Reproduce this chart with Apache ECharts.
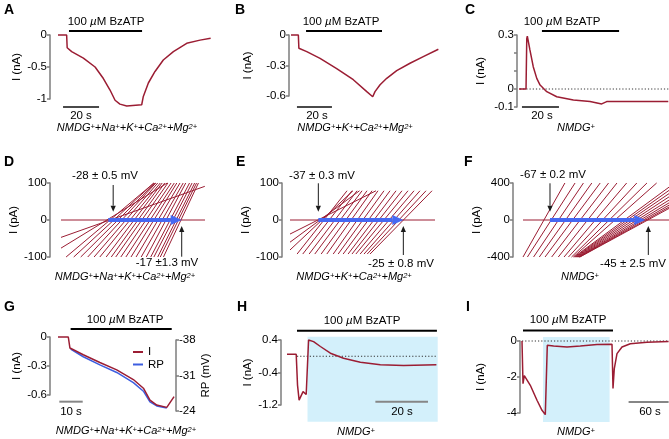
<!DOCTYPE html>
<html><head><meta charset="utf-8">
<script src="https://cdn.jsdelivr.net/npm/echarts/dist/echarts.min.js"></script>
<style>html,body{margin:0;padding:0;background:#fff}#c{width:669px;height:439px}</style>
</head><body><div id="c"></div>
<script>
// ---------------- DATA ----------------
// Panel A (time s, current nA)
const aTime=[0,4.8,5.1,5.8,7.6,14.1,20.6,25.2,28.9,31.7,34.4,38.2,46.5,47.4,50.2,53.9,58.5,64.1,71.5,78.9,84.8];
const aCurrent=[0,0,-0.2,-0.23,-0.26,-0.36,-0.5,-0.68,-0.86,-1.02,-1.08,-1.11,-1.09,-0.96,-0.75,-0.57,-0.39,-0.26,-0.13,-0.08,-0.05];
const aDrug=[6.1,46.7];
const aScaleBar=[2.8,22.8];
const aTicks=[-1,-0.5,0];
// Panel B
const bTime=[0,4.2,4.5,5.1,9.0,16.6,26.1,35.6,43.3,46.7,48.0,50.9,54.7,60.4,68.0,75.6,84.2];
const bCurrent=[0,0,-0.13,-0.14,-0.164,-0.23,-0.33,-0.44,-0.557,-0.607,-0.557,-0.49,-0.426,-0.35,-0.278,-0.213,-0.14];
const bDrug=[8.6,52.0];
const bScaleBar=[3.4,23.4];
const bTicks=[-0.6,-0.3,0];
// Panel C
const cTime=[0,3.8,4.2,4.5,5.9,7.7,9.6,11.4,15.0,20.4,29.4,38.4,44.7,47.4,65.4,80.7];
const cCurrent=[0,0,0.28,0.294,0.217,0.124,0.059,0.022,-0.015,-0.043,-0.061,-0.07,-0.083,-0.07,-0.07,-0.07];
const cDrug=[12.4,54.1];
const cScaleBar=[1.6,21.6];
const cTicks=[-0.1,0,0.1,0.2,0.3];
const cTickLabels=['-0.1','0','','','0.3'];
// Panel D ramps (V mV at I=-100 and I=+100 pA)
const dRampStartV=[-34.9,-33.7,-32.6,-31.5,-30.5,-29.6,-28.6,-27.8,-27.1,-26.3,-25.5,-24.7,-23.9,-23.1,-22.3,-21.6,-21.1,-20.5,-20.1,-19.6];
const dRampEndV=[-21.1,-21.1,-20.9,-20.8,-20.5,-20.1,-19.8,-19.4,-18.9,-18.4,-17.9,-17.5,-17.0,-16.5,-16.1,-15.5,-15.1,-14.7,-14.4,-14.1];
const dRampI=[-100,100];
const dLeakRamps=[[-35.7,-47,-13.1,91],[-35.7,-76,-19,100]];
const dReversal=[-27.5,-16.73];
const dTicks=[-100,0,100];
// Panel E ramps
const eRampStartV=[-40.0,-39.2,-38.3,-37.5,-36.6,-35.8,-34.9,-34.2,-33.5,-32.8,-32.25,-31.7,-31.1,-30.55,-30.1,-29.7];
const eRampEndV=[-32.95,-32.25,-31.54,-30.83,-30.13,-29.42,-28.58,-27.73,-26.88,-26.03,-25.19,-24.34,-23.49,-22.65,-21.8,-20.95];
const eRampI=[-92,79];
const eLeakRamps=[[-41,-38,-28.86,79],[-41,-60,-31.19,79],[-41,-81,-32.11,79]];
const eReversal=[-37,-25];
const eTicks=[-100,0,100];
// Panel F ramps: start at I=-400, end points
const fRampStartV=[-73.1,-72.1,-70.7,-69.4,-68.1,-66.6,-65.1,-63.8,-62.8,-62.1,-61.7,-61.5,-61.3,-61.1,-60.9,-60.7,-60.5,-60.4,-60.3,-60.2];
const fRampEndV=[-63.6,-61.3,-59.4,-57.5,-55.6,-53.7,-51.8,-49.6,-47.3,-45.0,-42.8,-40,-40,-40,-40,-40,-40,-40,-40,-40];
const fRampEndI=[400,400,400,400,400,400,400,400,400,400,400,355,320,285,250,215,185,160,140,125];
const fReversal=[-66.98,-44.69];
const fTicks=[-400,0,400];
// Panel G
const gTime=[0,4.4,5.1,5.9,10.8,17.9,25.1,32.2,36.5,39.3,42.2,46.5,49.6];
const gCurrent=[0,0,-0.114,-0.132,-0.184,-0.264,-0.34,-0.44,-0.53,-0.652,-0.704,-0.728,-0.617];
const gRpTime=[5.4,10.8,17.9,25.1,32.2,36.5,39.3,42.2,46.5];
const gRp=[-36.2,-34.7,-33.1,-31.6,-29.6,-27.9,-25.8,-25.0,-24.6];
const gDrug=[5.4,48.6];
const gScaleBar=[0.56,10.56];
const gTicks=[-0.6,-0.3,0];
const gRpTicks=[-38,-31,-24];
// Panel H
const hTime=[0,3.5,4.0,4.6,5.1,6.1,6.6,7.3,7.8,8.2,8.6,10.1,12.7,16.5,21.5,27.9,35.5,44.3,56.8];
const hCurrent=[0.05,0.05,-0.71,-1.08,-1.04,-0.87,-0.86,-0.94,-0.95,0.40,0.42,0.36,0.24,0.074,-0.05,-0.15,-0.21,-0.23,-0.21];
const hDrug=[3.8,57.0];
const hScaleBar=[33.6,53.6];
const hNmdg=[7.8,57.3];
const hTicks=[-1.2,-0.4,0.4];
// Panel I
const iTime=[0,1.2,1.5,3.45,12.45,22.5,30,34.95,36.9,37.95,47.4,67.5,87.45,112.5,135,136.5,138.45,142.5,150,162.45,187.5,219.9];
const iCurrent=[0,0,-2.37,-1.92,-2.46,-3.29,-3.85,-4.09,-4.09,-0.24,-0.28,-0.33,-0.28,-0.2,-0.18,-2.64,-1.53,-0.7,-0.33,-0.15,-0.07,-0.03];
const iDrug=[1.5,136.5];
const iScaleBar=[159.9,219.9];
const iNmdg=[31.5,131.4];
const iTicks=[-4,-2,0];

// ---------------- LAYOUT / STYLE ----------------
const FONT='"Liberation Sans", Arial, Helvetica, sans-serif';
const RED='#9b1d33', BLUE_TRACE='#3d5ee0', BLUE_ARROW='#4668f2', AXIS_C='#7d7d7d', CYAN='#d3f0fb';

const grids=[
 {left:58,top:35,width:153,height:64},   //0 A
 {left:291,top:35,width:147,height:61},  //1 B
 {left:519,top:35,width:150,height:72},  //2 C
 {left:61,top:183,width:144,height:74},  //3 D
 {left:290,top:183,width:145,height:74}, //4 E
 {left:523,top:183,width:146,height:74}, //5 F
 {left:58,top:337,width:117,height:58},  //6 G (I)
 {left:58,top:340,width:117,height:71},  //7 G (RP)
 {left:287,top:340,width:150,height:65}, //8 H
 {left:522,top:341,width:147,height:72}  //9 I
];
const xRanges=[[0,85],[0,84],[0,81.08],[-35.7,-13.07],[-41,-20.53],[-73.1,-40],[0,50],[0,50],[0,57.03],[0,220.5]];

function yAx(gi,ticks,name,offset,gap,extra){
  const o={type:'value',gridIndex:gi,min:ticks[0],max:ticks[ticks.length-1],interval:ticks[1]-ticks[0],
    offset:offset,
    axisLine:{show:true,onZero:false,lineStyle:{color:AXIS_C,width:1.5}},
    axisTick:{show:true,length:3,lineStyle:{color:AXIS_C,width:1.5}},
    axisLabel:{color:'#000',fontSize:11.5,fontFamily:FONT,margin:3,showMinLabel:true,showMaxLabel:true},
    splitLine:{show:false},
    name:name,nameLocation:'middle',nameRotate:90,nameGap:gap,
    nameTextStyle:{fontSize:11.5,color:'#000',fontFamily:FONT}};
  return Object.assign(o,extra||{});
}
const yAxes=[
 yAx(0,aTicks,'I (nA)',8,26),
 yAx(1,bTicks,'I (nA)',2,35),
 yAx(2,cTicks,'I (nA)',2,30),
 yAx(3,dTicks,'I (pA)',11,26),
 yAx(4,eTicks,'I (pA)',8,28),
 yAx(5,fTicks,'I (pA)',10,25),
 yAx(6,gTicks,'I (nA)',8,26),
 yAx(7,gRpTicks,'RP (mV)',1,23,{position:'right',inverse:true}),
 yAx(8,hTicks,'I (nA)',6,27),
 yAx(9,iTicks,'I (nA)',2,33)
];
yAxes[2].axisLabel.formatter=(v,idx)=>cTickLabels[idx]!==undefined?cTickLabels[idx]:'';
yAxes[8].axisLabel.formatter=v=>String(+v.toFixed(1));
const xAxes=xRanges.map((r,i)=>({type:'value',gridIndex:i,min:r[0],max:r[1],show:false}));

const pts=(t,v)=>t.map((x,i)=>[x,v[i]]);
function trace(gi,t,v,color,name){
  const c=color||RED;
  return {type:'line',name:name,xAxisIndex:gi,yAxisIndex:gi,data:pts(t,v),symbol:'none',showSymbol:false,
    clip:false,silent:true,z:3,color:c,itemStyle:{color:c},lineStyle:{color:c,width:1.5}};
}
const annotStyle={
  drug:{stroke:'#000',lineWidth:2},
  scale:{stroke:'#4a4a4a',lineWidth:2},
  scaleG:{stroke:'#868686',lineWidth:2},
  dot:{stroke:'#333',lineWidth:1,lineDash:[1.2,2]},
  ramp:{stroke:RED,lineWidth:1}
};
function arrowEl(a,b,w,headL,headW,color){
  const dx=b[0]-a[0],dy=b[1]-a[1],L=Math.hypot(dx,dy),ux=dx/L,uy=dy/L;
  const bx=b[0]-ux*headL,by=b[1]-uy*headL;
  return {type:'group',children:[
    {type:'line',shape:{x1:a[0],y1:a[1],x2:bx,y2:by},style:{stroke:color,lineWidth:w}},
    {type:'polygon',shape:{points:[[b[0],b[1]],[bx-uy*headW,by+ux*headW],[bx+uy*headW,by-ux*headW]]},style:{fill:color}}
  ]};
}
function annot(gi,items,z){
  return {type:'custom',xAxisIndex:gi,yAxisIndex:gi,clip:false,silent:true,z:z,
    data:items.map(it=>it.p),
    renderItem:function(params,api){
      const it=items[params.dataIndex];
      const a=api.coord([api.value(0),api.value(1)]);
      const b=api.coord([api.value(2),api.value(3)]);
      if(it.k==='rect') return {type:'rect',shape:{x:Math.min(a[0],b[0]),y:Math.min(a[1],b[1]),width:Math.abs(b[0]-a[0]),height:Math.abs(b[1]-a[1])},style:{fill:CYAN}};
      if(it.k==='arrow') return arrowEl(a,b,1,6,2.6,'#1a1a1a');
      if(it.k==='blue') return arrowEl(a,b,4,11,5,BLUE_ARROW);
      return {type:'line',shape:{x1:a[0],y1:a[1],x2:b[0],y2:b[1]},style:Object.assign({},annotStyle[it.k])};
    }};
}
const seg=(k,x1,y1,x2,y2)=>({k:k,p:[x1,y1,x2,y2]});

function ramps(startV,endV,iLo,iHiArr,leak,x0,x1){
  const s=[seg('ramp',x0,0,x1,0)];
  startV.forEach((v,i)=>s.push(seg('ramp',v,iLo,endV[i],Array.isArray(iHiArr)?iHiArr[i]:iHiArr)));
  (leak||[]).forEach(l=>s.push(seg('ramp',l[0],l[1],l[2],l[3])));
  return s;
}

const series=[
  annot(8,[seg('rect',hNmdg[0],0.483,hNmdg[1],-1.61)],1),
  annot(9,[seg('rect',iNmdg[0],0.22,iNmdg[1],-4.5)],1),
  // A
  trace(0,aTime,aCurrent),
  annot(0,[seg('drug',aDrug[0],0.0625,aDrug[1],0.0625),seg('scale',aScaleBar[0],-1.125,aScaleBar[1],-1.125)],4),
  // B
  trace(1,bTime,bCurrent),
  annot(1,[seg('drug',bDrug[0],0.039,bDrug[1],0.039),seg('scale',bScaleBar[0],-0.708,bScaleBar[1],-0.708)],4),
  // C
  annot(2,[seg('dot',0.5,0,81,0)],2),
  trace(2,cTime,cCurrent),
  annot(2,[seg('drug',cDrug[0],0.322,cDrug[1],0.322),seg('scale',cScaleBar[0],-0.1,cScaleBar[1],-0.1)],4),
  // D
  annot(3,ramps(dRampStartV,dRampEndV,dRampI[0],dRampI[1],dLeakRamps,-35.7,-13.07),2),
  annot(3,[seg('blue',dReversal[0]-0.77,0,dReversal[1],0),seg('arrow',dReversal[0],94.6,dReversal[0],22.4),seg('arrow',dReversal[1],-99.2,dReversal[1],-16.2)],4),
  // E
  annot(4,ramps(eRampStartV,eRampEndV,eRampI[0],eRampI[1],eLeakRamps,-41,-20.53),2),
  annot(4,[seg('blue',eReversal[0],0,eReversal[1],0),seg('arrow',eReversal[0],99.2,eReversal[0],22.4),seg('arrow',eReversal[1],-94.6,eReversal[1],-16.2)],4),
  // F
  annot(5,ramps(fRampStartV,fRampEndV,-400,fRampEndI,null,-73.1,-40),2),
  annot(5,[seg('blue',fReversal[0],0,fReversal[1]-0.7,0),seg('arrow',fReversal[0],396.7,fReversal[0],89.7),seg('arrow',fReversal[1],-378,fReversal[1],-64.9)],4),
  // G
  trace(7,gRpTime,gRp,BLUE_TRACE,'RP'),
  trace(6,gTime,gCurrent,RED,'I'),
  annot(6,[seg('drug',gDrug[0],0.083,gDrug[1],0.083),seg('scaleG',gScaleBar[0],-0.669,gScaleBar[1],-0.669)],4),
  // H
  annot(8,[seg('dot',hDrug[0],0,hDrug[1],0)],2),
  trace(8,hTime,hCurrent),
  annot(8,[seg('drug',hDrug[0],0.63,hDrug[1],0.63),seg('scaleG',hScaleBar[0],-1.118,hScaleBar[1],-1.118)],4),
  // I
  annot(9,[seg('dot',0,0,220.5,0)],2),
  trace(9,iTime,iCurrent),
  annot(9,[seg('drug',iDrug[0],0.59,iDrug[1],0.59),seg('scaleG',iScaleBar[0],-3.39,iScaleBar[1],-3.39)],4)
];

// ---------------- TEXT ----------------
const supRich={s:{fontSize:7.5,fontStyle:'italic',fontFamily:FONT,fill:'#000',verticalAlign:'top'}};
const muRich={m:{fontSize:11.5,fontStyle:'italic',fontFamily:FONT,fill:'#000'}};
function txt(x,y,text,opt){
  return {type:'text',x:x,y:y,silent:true,z:10,style:Object.assign({text:text,fill:'#000',fontFamily:FONT,fontSize:11.5,align:'center',verticalAlign:'middle'},opt||{})};
}
const capAll='NMDG{s|+}+Na{s|+}+K{s|+}+Ca{s|2+}+Mg{s|2+}';
const capNoNa='NMDG{s|+}+K{s|+}+Ca{s|2+}+Mg{s|2+}';
const capN='NMDG{s|+}';
const cap=(x,y,t)=>txt(x,y,t,{fontSize:11,fontStyle:'italic',rich:supRich});
const drugTxt=(x,y)=>txt(x,y,'100 {m|µ}M BzATP',{fontSize:11.5,rich:muRich});
const letter=(x,y,t)=>txt(x,y,t,{fontSize:14,fontWeight:'bold',align:'left'});

const graphics=[
  letter(4,10,'A'),letter(235,10,'B'),letter(465,10,'C'),
  letter(4,162,'D'),letter(236,162,'E'),letter(464,162,'F'),
  letter(4,307,'G'),letter(237,307,'H'),letter(466,307,'I'),
  drugTxt(106,22),drugTxt(341,22),drugTxt(562,22),
  drugTxt(125,320),drugTxt(362,321),drugTxt(568,320),
  txt(81,116,'20 s'),txt(317,116,'20 s'),txt(542,116,'20 s'),
  txt(71,412,'10 s'),txt(402,412,'20 s'),txt(650,412,'60 s'),
  cap(127,128,capAll),cap(355,128,capNoNa),cap(576,128,capN),
  cap(125,277,capAll),cap(354,277,capNoNa),cap(580,277,capN),
  cap(126,431,capAll),cap(356,432,capN),cap(576,432,capN),
  txt(105,176,'-28 ± 0.5 mV'),txt(167,263,'-17 ±1.3 mV'),
  txt(322,176,'-37 ± 0.3 mV'),txt(401,264,'-25 ± 0.8 mV'),
  txt(553,175,'-67 ± 0.2 mV'),txt(633,264,'-45 ± 2.5 mV')
];

const chart=echarts.init(document.getElementById('c'),null,{renderer:'canvas'});
chart.setOption({
  animation:false,
  backgroundColor:'#fff',
  grid:grids,
  xAxis:xAxes,
  yAxis:yAxes,
  legend:{data:['I','RP'],orient:'vertical',left:131,top:344,itemWidth:10,itemHeight:2,itemGap:0.5,icon:'rect',padding:2,
    selectedMode:false,textStyle:{fontSize:11.5,lineHeight:12,fontFamily:FONT,color:'#000'}},
  series:series,
  graphic:graphics
});
</script>
</body></html>
